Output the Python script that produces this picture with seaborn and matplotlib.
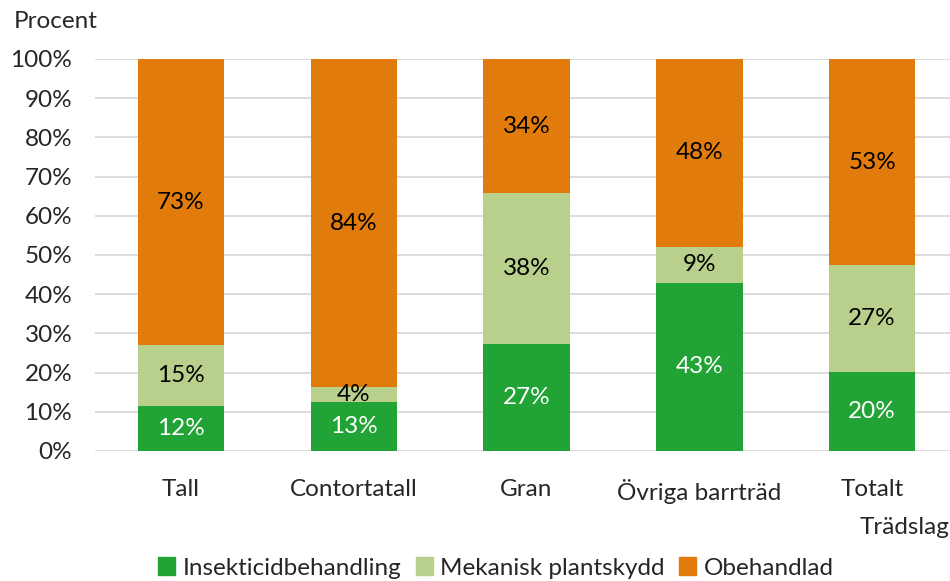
import numpy as np
import pandas as pd
import matplotlib
matplotlib.use("Agg")
import matplotlib.pyplot as plt
import seaborn as sns

# data (percent of each tree species)
categories = ["Tall", "Contortatall", "Gran", "Övriga barrträd", "Totalt"]
insekticid = [11.6, 12.6, 27.3, 42.9, 20.2]
mekanisk = [15.4, 3.7, 38.4, 9.2, 27.2]
obehandlad = [73.0, 83.7, 34.3, 47.9, 52.6]

series_names = ["Insekticidbehandling", "Mekanisk plantskydd", "Obehandlad"]
colors = ["#21A336", "#B8D08C", "#E07B0C"]
label_colors = ["white", "black", "black"]

sns.set_theme(style="white")
plt.rcParams["font.family"] = ["Lato", "DejaVu Sans"]
FS = 17.5

df = pd.DataFrame({"Trädslag": categories, series_names[0]: insekticid,
                   series_names[1]: mekanisk, series_names[2]: obehandlad})

fig = plt.figure(figsize=(9.5, 5.81), dpi=100)
ax = fig.add_axes([94.5 / 950, 0.2238, 864 / 950, 0.6747])

# stacked bars: draw cumulative totals from the top down
cum = df[series_names].cumsum(axis=1)
for i in reversed(range(3)):
    sns.barplot(x=df["Trädslag"], y=cum[series_names[i]], color=colors[i],
                width=0.5, ax=ax, saturation=1, linewidth=0, zorder=2)

# value labels in the middle of each segment
for j in range(len(categories)):
    for i, name in enumerate(series_names):
        v = df[name][j]
        mid = cum[name][j] - v / 2
        ax.text(j, mid, f"{v:.0f}%", ha="center", va="center",
                color=label_colors[i], fontsize=FS, zorder=3)

ax.set_ylim(0, 100)
ax.set_xlim(-0.5, 4.5)
ax.set_yticks(np.arange(0, 101, 10))
ax.set_yticklabels([f"{t}%" for t in range(0, 101, 10)], fontsize=FS)
ax.tick_params(axis="x", labelsize=FS, pad=14)
ax.tick_params(axis="y", pad=10)
ax.yaxis.grid(True, color="#D9D9D9", linewidth=1.3, zorder=0)
ax.set_axisbelow(True)
for s in ax.spines.values():
    s.set_visible(False)
ax.set_xlabel("")
ax.set_ylabel("")

fig.text(14 / 950, 1 - 22 / 581, "Procent", fontsize=FS, va="center", ha="left")
fig.text(1.0, 1 - 528 / 581, "Trädslag", fontsize=FS, va="center", ha="right")

handles = [plt.Rectangle((0, 0), 1, 1, color=c) for c in colors]
fig.legend(handles, series_names, loc="center", bbox_to_anchor=(0.522, 1 - 568 / 581),
           ncol=3, frameon=False, fontsize=FS, handlelength=0.7, handleheight=0.7,
           handletextpad=0.3, columnspacing=0.6, borderaxespad=0)

fig.savefig("out.png", dpi=100)
